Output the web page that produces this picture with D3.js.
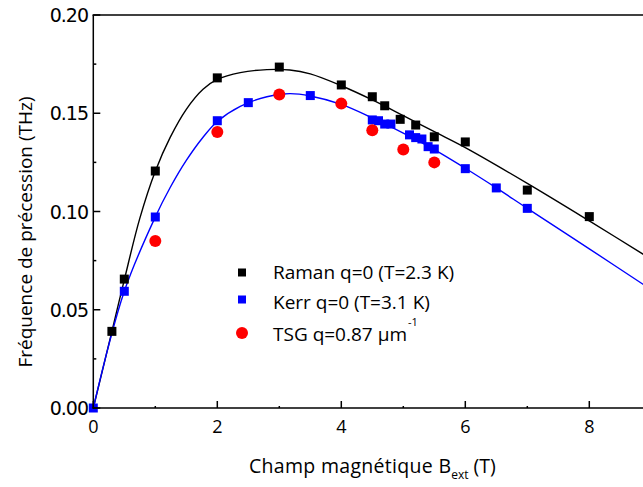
<!DOCTYPE html>
<html><head><meta charset="utf-8">
<script src="https://cdn.jsdelivr.net/npm/d3@7"></script>
<style>body{margin:0;background:#fff}svg{display:block}</style>
</head><body>
<script>
// ---- data ----
const ramanB = [0.3, 0.5, 1.0, 2.0, 3.0, 4.0, 4.5, 4.7, 4.95, 5.2, 5.5, 6.0, 7.0, 8.0];
const ramanF = [0.039, 0.0656, 0.1206, 0.168, 0.1735, 0.1644, 0.1584, 0.1538, 0.1469, 0.144, 0.138, 0.1354, 0.1109, 0.0974];
const kerrB = [0.0, 0.5, 1.0, 2.0, 2.5, 3.5, 4.5, 4.6, 4.7, 4.8, 5.1, 5.2, 5.3, 5.4, 5.5, 6.0, 6.5, 7.0];
const kerrF = [0.0, 0.0594, 0.0972, 0.1462, 0.1554, 0.159, 0.1466, 0.1462, 0.1445, 0.1445, 0.139, 0.1376, 0.1369, 0.133, 0.1318, 0.1218, 0.112, 0.1016];
const tsgB = [1.0, 2.0, 3.0, 4.0, 4.5, 5.0, 5.5];
const tsgF = [0.085, 0.1405, 0.1596, 0.1549, 0.1413, 0.1315, 0.125];
// fitted curves
const fitRamanB = [0, 0.3, 0.5, 0.75, 1.0, 1.24, 1.5, 1.77, 2.0, 2.37, 2.8, 3.17, 3.5, 4.0, 4.5, 5.0, 5.5, 6.0, 7.0, 8.0, 9.0];
const fitRamanF = [0, 0.039, 0.0652, 0.0965, 0.1205, 0.1377, 0.152, 0.1622, 0.1672, 0.1707, 0.1722, 0.1720, 0.1700, 0.1640, 0.1568, 0.1488, 0.1406, 0.1325, 0.1143, 0.0952, 0.0757];
const fitKerrB = [0, 0.5, 1.0, 1.24, 1.5, 1.77, 2.0, 2.37, 2.8, 3.17, 3.5, 4.0, 4.5, 5.0, 5.5, 6.0, 6.5, 7.0, 8.0, 9.0];
const fitKerrF = [0, 0.0594, 0.0972, 0.1122, 0.126, 0.1378, 0.1458, 0.1535, 0.1584, 0.1600, 0.1588, 0.1545, 0.1476, 0.1399, 0.1315, 0.1220, 0.1120, 0.1016, 0.0810, 0.0602];
const xTicks = [0, 2, 4, 6, 8];
const xMinor = [1, 3, 5, 7];
const yTicks = [0, 0.05, 0.10, 0.15, 0.20];
const yTickLabels = ["0.00", "0.05", "0.10", "0.15", "0.20"];
const yMinor = [0.025, 0.075, 0.125, 0.175];
const legendLabels = ["Raman q=0 (T=2.3 K)", "Kerr q=0 (T=3.1 K)", "TSG q=0.87 \u00b5m"];

const W = 643, H = 487;
const FONT = "Open Sans";
const svg = d3.select("body").append("svg").attr("width", W).attr("height", H);
const x = d3.scaleLinear().domain([0, 9]).range([93.3, 93.3 + 62 * 9]);
const y = d3.scaleLinear().domain([0, 0.2]).range([408, 15]);
const X0 = x(0), Y0 = y(0), YT = y(0.2);

// curves
const line = d3.line().x(d => x(d[0])).y(d => y(d[1])).curve(d3.curveCatmullRom.alpha(0.5));
svg.append("path").datum(d3.zip(fitRamanB, fitRamanF)).attr("d", line)
  .attr("fill", "none").attr("stroke", "#000").attr("stroke-width", 1.4);
svg.append("path").datum(d3.zip(fitKerrB, fitKerrF)).attr("d", line)
  .attr("fill", "none").attr("stroke", "#0000ff").attr("stroke-width", 1.4);

// points
const sq = 9;
svg.append("g").selectAll("rect").data(d3.zip(ramanB, ramanF)).join("rect")
  .attr("x", d => x(d[0]) - sq / 2).attr("y", d => y(d[1]) - sq / 2)
  .attr("width", sq).attr("height", sq).attr("fill", "#000");
svg.append("g").selectAll("rect").data(d3.zip(kerrB, kerrF)).join("rect")
  .attr("x", d => x(d[0]) - sq / 2).attr("y", d => y(d[1]) - sq / 2)
  .attr("width", sq).attr("height", sq).attr("fill", "#0000ff");
svg.append("g").selectAll("circle").data(d3.zip(tsgB, tsgF)).join("circle")
  .attr("cx", d => x(d[0])).attr("cy", d => y(d[1])).attr("r", 6).attr("fill", "#ff0000");

// axes
const ax = svg.append("g").attr("stroke", "#000").attr("stroke-width", 1.5);
ax.append("line").attr("x1", X0).attr("x2", X0).attr("y1", YT).attr("y2", Y0 + 0.75);
ax.append("line").attr("x1", X0 - 0.75).attr("x2", W).attr("y1", Y0).attr("y2", Y0);
ax.append("line").attr("x1", X0 - 0.75).attr("x2", W).attr("y1", YT).attr("y2", YT);
ax.selectAll(".xt").data(xTicks).join("line").attr("class", "xt").attr("x1", d => x(d)).attr("x2", d => x(d)).attr("y1", Y0).attr("y2", Y0 - 7);
ax.selectAll(".xm").data(xMinor).join("line").attr("class", "xm").attr("x1", d => x(d)).attr("x2", d => x(d)).attr("y1", Y0).attr("y2", Y0 - 2);
ax.selectAll(".yt").data(yTicks).join("line").attr("class", "yt").attr("x1", X0).attr("x2", X0 + 7).attr("y1", d => y(d)).attr("y2", d => y(d));
ax.selectAll(".ym").data(yMinor).join("line").attr("class", "ym").attr("x1", X0).attr("x2", X0 + 3).attr("y1", d => y(d)).attr("y2", d => y(d));

svg.append("g").selectAll("text").data(xTicks).join("text")
  .attr("x", d => x(d)).attr("y", 433).attr("text-anchor", "middle")
  .attr("font-family", FONT).attr("font-size", 18).attr("fill", "#000").text(d => d);
svg.append("g").selectAll("text").data(yTicks).join("text")
  .attr("x", 88).attr("y", d => y(d) + 7).attr("text-anchor", "end")
  .attr("font-family", "DejaVu Sans").attr("font-size", 19).attr("letter-spacing", -1)
  .attr("fill", "#000").text((d, i) => yTickLabels[i]);

// axis titles
const xt = svg.append("text").attr("x", 249).attr("y", 473).attr("font-family", FONT).attr("font-size", 19.5).attr("fill", "#000");
xt.append("tspan").attr("letter-spacing", 0.3).text("Champ magnétique B");
xt.append("tspan").attr("font-size", 12).attr("dy", 6).attr("dx", 0).text("ext");
xt.append("tspan").attr("dy", -6).attr("dx", 5).text("(T)");
svg.append("text").attr("transform", "translate(32,232) rotate(-90)").attr("text-anchor", "middle")
  .attr("font-family", FONT).attr("font-size", 19).attr("fill", "#000").text("Fréquence de précession (THz)");

// legend
const lg = svg.append("g");
const ly = [272.5, 299.5, 333];
const lb = [279, 309, 341];
lg.append("rect").attr("x", 238).attr("y", ly[0] - 4).attr("width", 8).attr("height", 8).attr("fill", "#000");
lg.append("rect").attr("x", 238).attr("y", ly[1] - 4).attr("width", 8).attr("height", 8).attr("fill", "#0000ff");
lg.append("circle").attr("cx", 242).attr("cy", ly[2]).attr("r", 6).attr("fill", "#ff0000");
legendLabels.forEach((t, i) => {
  const tx = lg.append("text").attr("x", 273).attr("y", lb[i]).attr("font-family", FONT).attr("font-size", 19).attr("fill", "#000");
  tx.append("tspan").text(t);
  if (i === 2) tx.append("tspan").attr("font-size", 11).attr("dy", -15).attr("dx", 1).text("-1");
});
</script>
</body></html>
